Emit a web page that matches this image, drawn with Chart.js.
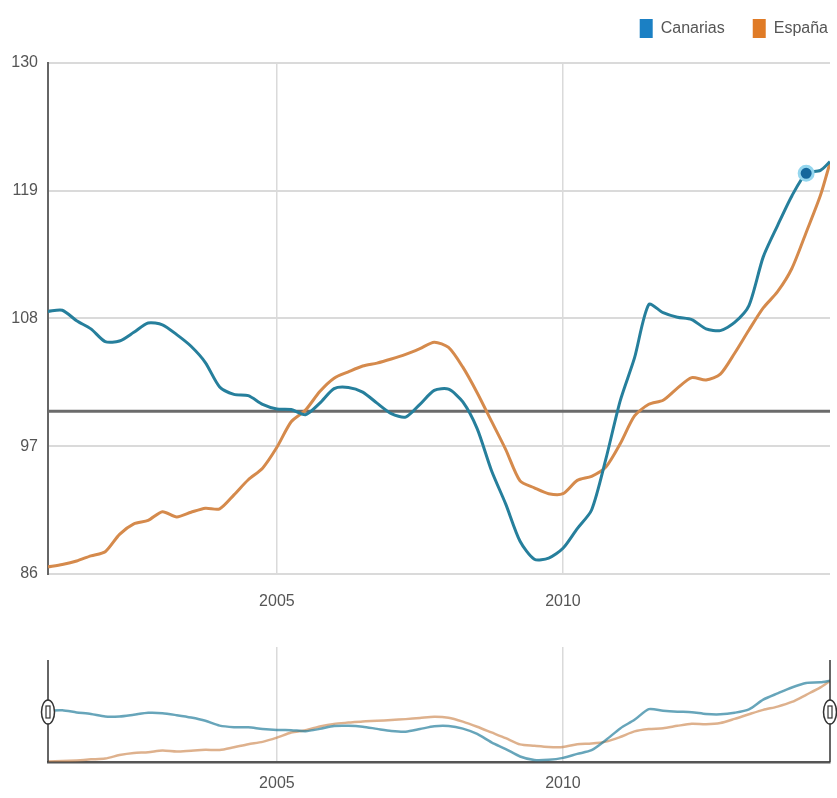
<!DOCTYPE html>
<html>
<head>
<meta charset="utf-8">
<script src="https://cdn.jsdelivr.net/npm/chart.js@4"></script>
<style>
  html, body { margin: 0; padding: 0; background: #fff; }
  canvas { display: block; }
</style>
</head>
<body>
<canvas id="mainChart" width="837" height="613"></canvas>
<canvas id="navChart" width="837" height="185"></canvas>
<script>
// periods (quarterly readings, last one Sep 2014)
const periods = [
  '2001-01', '2001-04', '2001-07', '2001-10',
  '2002-01', '2002-04', '2002-07', '2002-10',
  '2003-01', '2003-04', '2003-07', '2003-10',
  '2004-01', '2004-04', '2004-07', '2004-10',
  '2005-01', '2005-04', '2005-07', '2005-10',
  '2006-01', '2006-04', '2006-07', '2006-10',
  '2007-01', '2007-04', '2007-07', '2007-10',
  '2008-01', '2008-04', '2008-07', '2008-10',
  '2009-01', '2009-04', '2009-07', '2009-10',
  '2010-01', '2010-04', '2010-07', '2010-10',
  '2011-01', '2011-04', '2011-07', '2011-10',
  '2012-01', '2012-04', '2012-07', '2012-10',
  '2013-01', '2013-04', '2013-07', '2013-10',
  '2014-01', '2014-04', '2014-07', '2014-09'
];

const canarias = [
  108.6, 108.7, 107.8, 107.1, 106.0, 106.05, 106.8, 107.6,
  107.45, 106.6, 105.6, 104.2, 102.1, 101.45, 101.35, 100.6,
  100.2, 100.15, 99.7, 100.7, 101.95, 102.05, 101.65, 100.7,
  99.8, 99.5, 100.6, 101.8, 101.9, 100.8, 98.5, 94.9,
  92.0, 88.8, 87.25, 87.35, 88.2, 89.9, 91.5, 95.9,
  100.9, 104.6, 109.2, 108.5, 108.1, 107.9, 107.1, 106.95,
  107.65, 109.1, 113.3, 116.0, 118.55, 120.5, 120.75, 121.5
];

const espana = [
  86.6, 86.8, 87.1, 87.55, 87.9, 89.4, 90.3, 90.6,
  91.35, 90.9, 91.3, 91.65, 91.6, 92.8, 94.1, 95.1,
  96.9, 99.1, 100.1, 101.7, 102.85, 103.4, 103.9, 104.15,
  104.5, 104.9, 105.4, 105.95, 105.5, 103.8, 101.6, 99.15,
  96.7, 94.0, 93.4, 92.9, 92.9, 94.05, 94.4, 95.2,
  97.2, 99.6, 100.6, 100.95, 102.0, 102.9, 102.7, 103.2,
  105.0, 107.0, 108.9, 110.3, 112.3, 115.4, 118.6, 121.4
];

const seriesNames = ['Canarias', 'España'];
const yTickValues = [86, 97, 108, 119, 130];
const xTickValues = [2005, 2010];
const baselineValue = 100;
const markerPeriod = '2014-04';

// colours
const lineColors = ['#267f9c', '#d58a4c'];
const navColors = ['rgba(38,127,156,0.7)', 'rgba(205,135,80,0.65)'];
const legendColors = ['#1b80c4', '#e07b26'];
const textColor = '#555';
const gridColor = '#dadada';
const axisColor = '#666';

const fontFamily = "'Liberation Sans', Arial, sans-serif";
const fontSize = 16;

// 'YYYY-MM' -> decimal year
function periodToYear(p) {
  const [y, m] = p.split('-').map(Number);
  return y + (m - 1) / 12;
}

function toPoints(values) {
  return values.map((v, i) => ({ x: periodToYear(periods[i]), y: v }));
}

const xMin = periodToYear(periods[0]);
const xMax = periodToYear(periods[periods.length - 1]);
const markerIndex = periods.indexOf(markerPeriod);

/* ===============================
   linha de base (100)
=============================== */
const baselinePlugin = {
  id: 'baseline',
  beforeDatasetsDraw(chart) {
    const { ctx, chartArea } = chart;
    const y = chart.scales.y.getPixelForValue(baselineValue);
    ctx.save();
    ctx.strokeStyle = '#6b6b6b';
    ctx.lineWidth = 3;
    ctx.beginPath();
    ctx.moveTo(chartArea.left, y);
    ctx.lineTo(chartArea.right, y);
    ctx.stroke();
    ctx.restore();
  }
};

/* ===============================
   alças do navegador
=============================== */
const handlesPlugin = {
  id: 'handles',
  afterDraw(chart) {
    const { ctx, chartArea } = chart;
    const top = chartArea.top + 13;
    const mid = chartArea.top + 65;
    [chartArea.left, chartArea.right].forEach(x => {
      ctx.save();
      ctx.strokeStyle = '#333';
      ctx.lineWidth = 1.5;
      ctx.beginPath();
      ctx.moveTo(x, top);
      ctx.lineTo(x, chartArea.bottom);
      ctx.stroke();

      ctx.fillStyle = '#fff';
      ctx.beginPath();
      ctx.ellipse(x, mid, 6.5, 12, 0, 0, Math.PI * 2);
      ctx.fill();
      ctx.stroke();

      ctx.lineWidth = 1.2;
      ctx.strokeRect(x - 2, mid - 6, 4, 12);
      ctx.restore();
    });
  }
};

// espaço extra abaixo da legenda + encostar à direita
const legendSpacing = {
  id: 'legendSpacing',
  beforeInit(chart) {
    const legend = chart.legend;
    const fit = legend.fit;
    legend.fit = function () {
      fit.call(legend);
      this.height = 72;
    };
    const draw = legend.draw;
    legend.draw = function (...args) {
      const ctx = this.ctx;
      ctx.save();
      ctx.translate(26, 0);
      draw.apply(legend, args);
      ctx.restore();
    };
  }
};

const xScaleBase = {
  type: 'linear',
  min: xMin,
  max: xMax,
  afterBuildTicks: scale => {
    scale.ticks = xTickValues.map(v => ({ value: v }));
  },
  grid: { color: gridColor, lineWidth: 1.5, drawTicks: false }
};

new Chart(document.getElementById('mainChart'), {
  type: 'line',
  data: {
    datasets: [
      {
        label: seriesNames[0],
        data: toPoints(canarias),
        borderColor: lineColors[0],
        backgroundColor: legendColors[0],
        borderWidth: 3,
        tension: 0.25,
        pointRadius: ctx => ctx.dataIndex === markerIndex ? 7 : 0,
        pointBackgroundColor: '#14679c',
        pointBorderColor: '#94d6ee',
        pointBorderWidth: 3
      },
      {
        label: seriesNames[1],
        data: toPoints(espana),
        borderColor: lineColors[1],
        backgroundColor: legendColors[1],
        borderWidth: 3,
        tension: 0.25,
        pointRadius: 0
      }
    ]
  },
  options: {
    responsive: false,
    animation: false,
    layout: { padding: { top: -9, right: 7, left: 0, bottom: -16 } },
    scales: {
      x: {
        ...xScaleBase,
        ticks: {
          callback: v => String(v),
          padding: 18,
          color: textColor,
          font: { family: fontFamily, size: fontSize }
        },
        border: { display: false }
      },
      y: {
        min: yTickValues[0],
        max: yTickValues[yTickValues.length - 1],
        afterBuildTicks: scale => {
          scale.ticks = yTickValues.map(v => ({ value: v }));
        },
        afterFit: scale => { scale.width = 48; },
        ticks: {
          padding: 10,
          color: textColor,
          font: { family: fontFamily, size: fontSize }
        },
        grid: { color: gridColor, lineWidth: 2, drawTicks: false },
        border: { color: axisColor, width: 2 }
      }
    },
    plugins: {
      legend: {
        position: 'top',
        align: 'end',
        labels: {
          boxWidth: 13,
          boxHeight: 19,
          padding: 28,
          color: textColor,
          font: { family: fontFamily, size: fontSize },
          generateLabels: chart => chart.data.datasets.map((ds, i) => ({
            text: ds.label,
            fillStyle: legendColors[i],
            strokeStyle: legendColors[i],
            lineWidth: 0,
            fontColor: textColor,
            datasetIndex: i
          }))
        }
      },
      tooltip: { enabled: false }
    }
  },
  plugins: [baselinePlugin, legendSpacing]
});

new Chart(document.getElementById('navChart'), {
  type: 'line',
  data: {
    datasets: [
      {
        label: seriesNames[0],
        data: toPoints(canarias),
        borderColor: navColors[0],
        borderWidth: 2.5,
        tension: 0.25,
        pointRadius: 0
      },
      {
        label: seriesNames[1],
        data: toPoints(espana),
        borderColor: navColors[1],
        borderWidth: 2.5,
        tension: 0.25,
        pointRadius: 0
      }
    ]
  },
  options: {
    responsive: false,
    animation: false,
    layout: { padding: { top: 34, right: 7, left: 48, bottom: -7 } },
    scales: {
      x: {
        ...xScaleBase,
        ticks: {
          callback: v => String(v),
          padding: 12,
          color: textColor,
          font: { family: fontFamily, size: fontSize }
        },
        border: { display: true, color: '#555', width: 2.5 }
      },
      y: {
        display: false,
        min: 86.5,
        max: 136
      }
    },
    plugins: {
      legend: { display: false },
      tooltip: { enabled: false }
    }
  },
  plugins: [handlesPlugin]
});
</script>
</body>
</html>
